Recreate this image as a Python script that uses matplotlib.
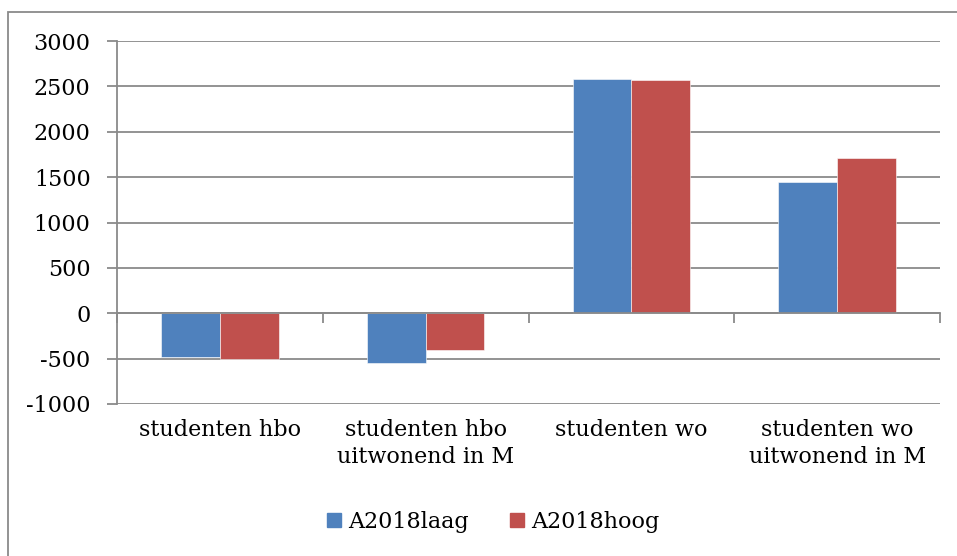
import matplotlib.pyplot as plt
from matplotlib.patches import Rectangle
from matplotlib.lines import Line2D
from matplotlib.ticker import FixedLocator, NullFormatter
import numpy as np

categories = ['studenten hbo', 'studenten hbo\nuitwonend in M',
              'studenten wo', 'studenten wo\nuitwonend in M']
laag = [-485, -548, 2583, 1449]
hoog = [-500, -400, 2572, 1711]
series_names = ['A2018laag', 'A2018hoog']
colors = ['#4F81BD', '#C0504D']
yticks = [-1000, -500, 0, 500, 1000, 1500, 2000, 2500, 3000]

plt.rcParams['font.family'] = ['DejaVu Serif']
plt.rcParams['axes.unicode_minus'] = False
grey = '#8a8a8a'
fs = 16

fig = plt.figure(figsize=(9.57, 5.56), dpi=100)
ax = fig.add_axes([117 / 957, 1 - 404 / 556, (940 - 117) / 957, (404 - 41) / 556])

x = np.arange(len(categories))
w = 0.285
ax.bar(x - w / 2, laag, w, color=colors[0], edgecolor='white', linewidth=0.4, zorder=3)
ax.bar(x + w / 2, hoog, w, color=colors[1], edgecolor='white', linewidth=0.4, zorder=3)

ax.set_xlim(-0.5, len(categories) - 0.5)
ax.set_ylim(yticks[0], yticks[-1])
ax.set_yticks(yticks)
ax.tick_params(axis='y', labelsize=fs, direction='out', length=7, width=1.3,
               color=grey, pad=12)
ax.yaxis.grid(True, color=grey, linewidth=1.3, zorder=0)

# x axis crosses at zero with ticks between categories
for s in ['top', 'right']:
    ax.spines[s].set_visible(False)
ax.spines['left'].set_color(grey)
ax.spines['left'].set_linewidth(1.3)
ax.spines['bottom'].set_position(('data', 0))
ax.spines['bottom'].set_color(grey)
ax.spines['bottom'].set_linewidth(1.3)
ax.spines['bottom'].set_zorder(4)
ax.set_xticks([])
ax.xaxis.set_minor_locator(FixedLocator(np.arange(len(categories) + 1) - 0.5))
ax.xaxis.set_minor_formatter(NullFormatter())
ax.tick_params(axis='x', which='minor', direction='out', length=7, width=1.3, color=grey)

for i, c in enumerate(categories):
    ax.text(i, -0.04, c, transform=ax.get_xaxis_transform(), ha='center', va='top',
            fontsize=fs, linespacing=1.3)

handles = [Line2D([], [], marker='s', linestyle='none', markersize=10, color=c)
           for c in colors]
fig.legend(handles, series_names, loc='center', bbox_to_anchor=(0.515, 1 - 522 / 556),
           ncol=2, frameon=False, fontsize=fs, handlelength=0.7, handletextpad=0.3,
           columnspacing=1.8)

fig.patches.append(Rectangle((8 / 957, -0.1), 1.2, 1 - 12 / 556 + 0.1,
                             transform=fig.transFigure, fill=False,
                             edgecolor=grey, linewidth=1.3))

fig.savefig('out.png', dpi=100)
